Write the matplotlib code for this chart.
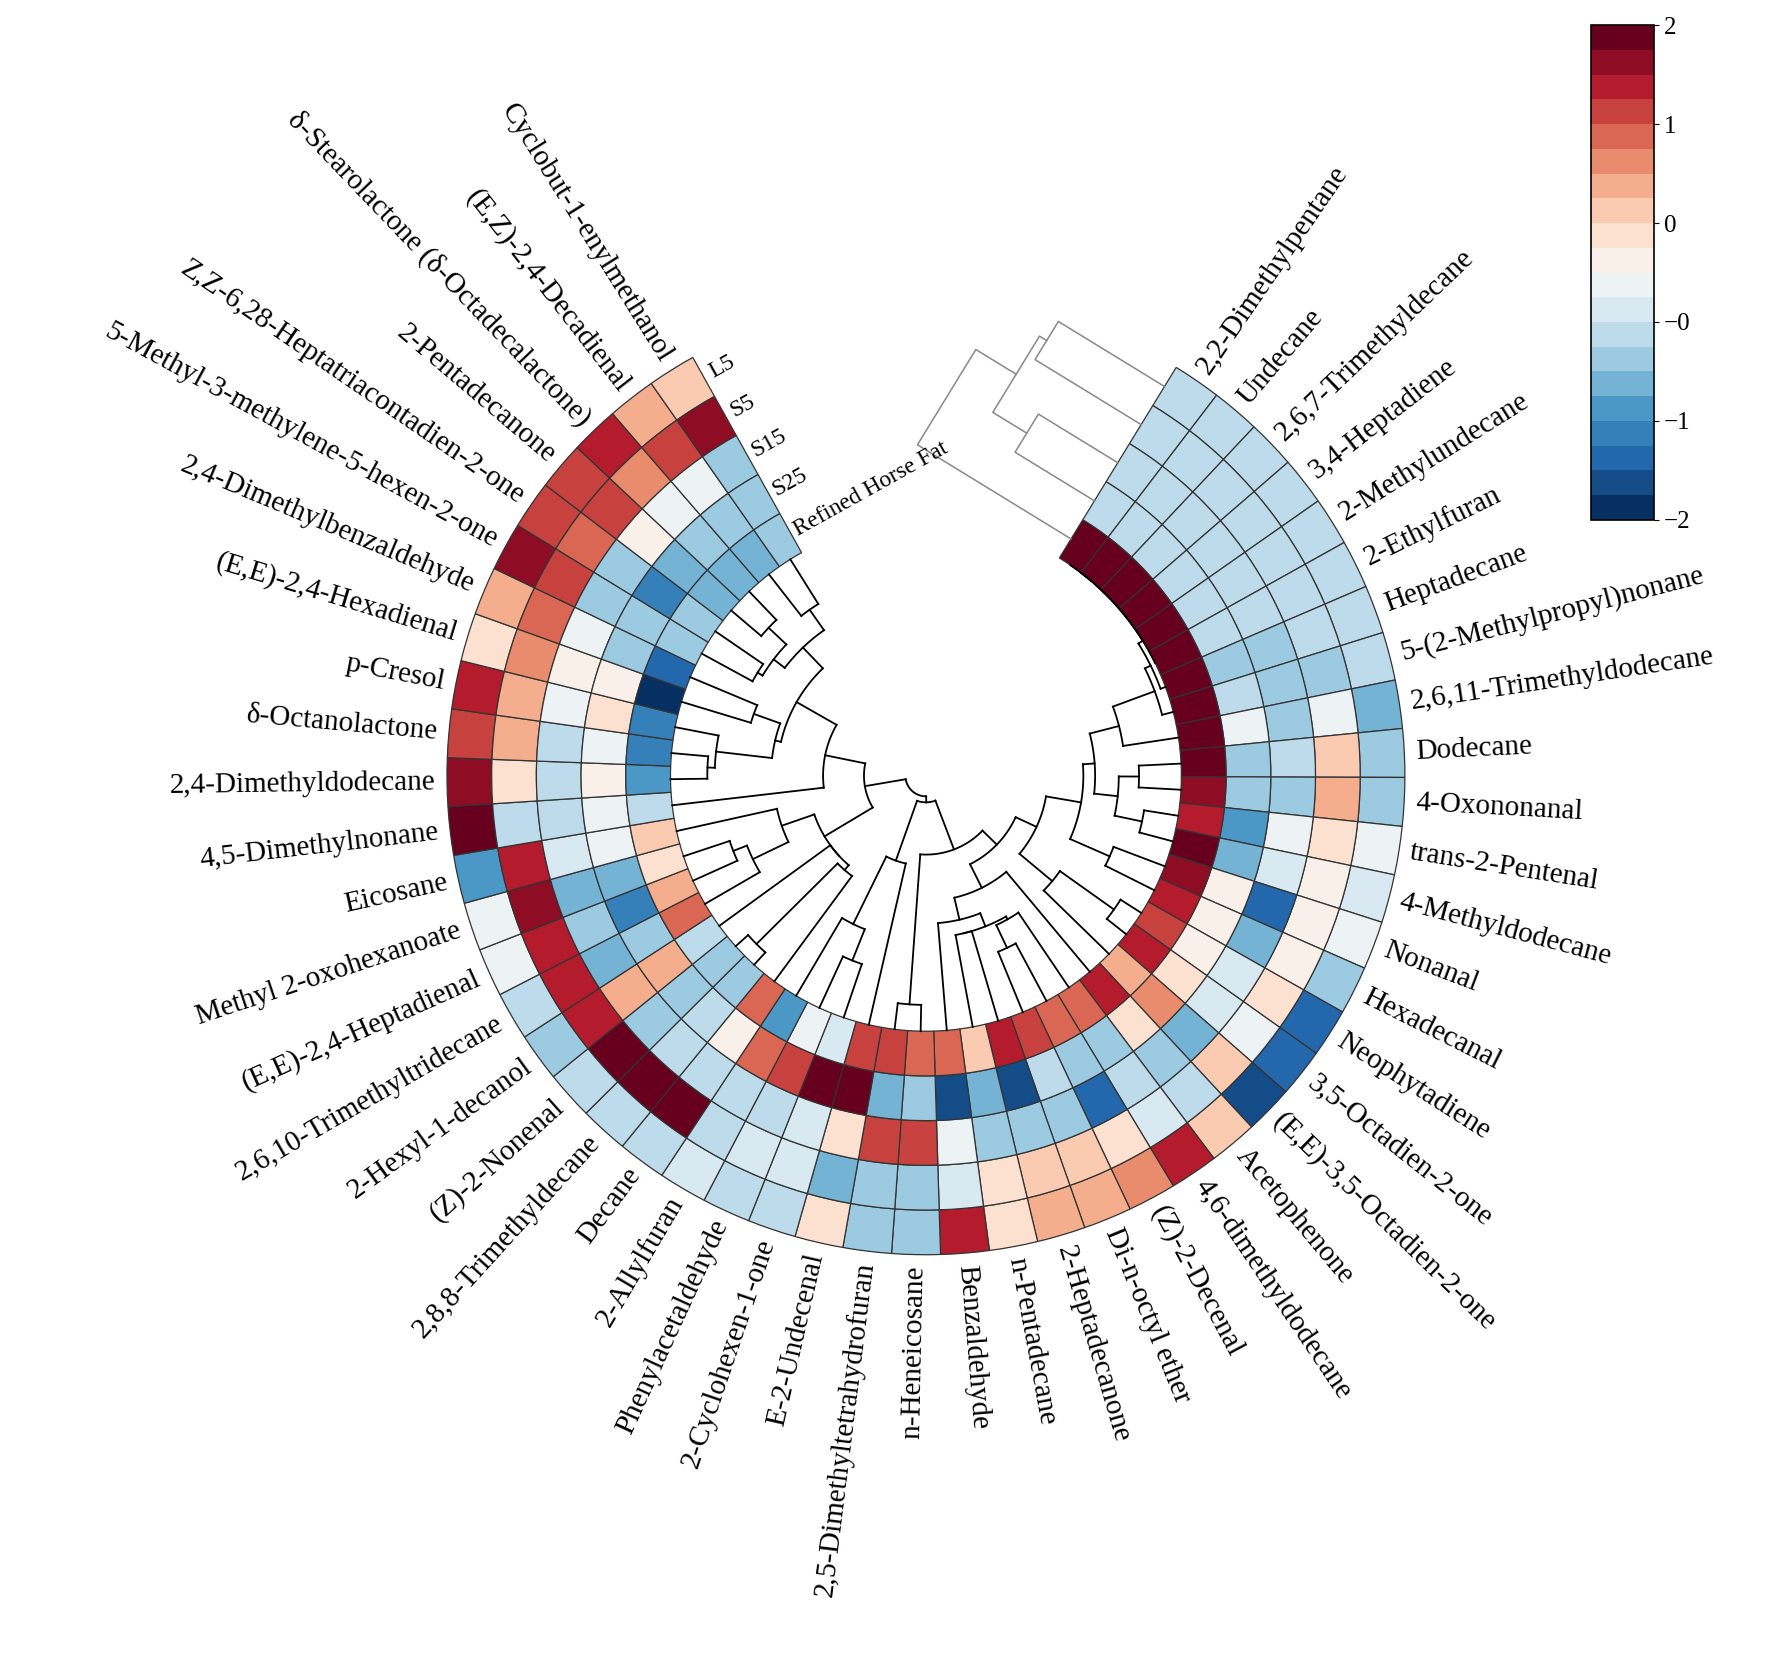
import numpy as np
import matplotlib
matplotlib.use('Agg')
import matplotlib.pyplot as plt
from matplotlib.patches import Wedge
from matplotlib import colors, cm

plt.rcParams['font.family'] = ['Liberation Serif', 'DejaVu Serif']

compounds = [
    "2,2-Dimethylpentane", "Undecane", "2,6,7-Trimethyldecane", "3,4-Heptadiene",
    "2-Methylundecane", "2-Ethylfuran", "Heptadecane", "5-(2-Methylpropyl)nonane",
    "2,6,11-Trimethyldodecane", "Dodecane", "4-Oxononanal", "trans-2-Pentenal",
    "4-Methyldodecane", "Nonanal", "Hexadecanal", "Neophytadiene",
    "3,5-Octadien-2-one", "(E,E)-3,5-Octadien-2-one", "Acetophenone",
    "4,6-dimethyldodecane", "(Z)-2-Decenal", "Di-n-octyl ether", "2-Heptadecanone",
    "n-Pentadecane", "Benzaldehyde", "n-Heneicosane", "2,5-Dimethyltetrahydrofuran",
    "E-2-Undecenal", "2-Cyclohexen-1-one", "Phenylacetaldehyde", "2-Allylfuran",
    "Decane", "2,8,8-Trimethyldecane", "(Z)-2-Nonenal", "2-Hexyl-1-decanol",
    "2,6,10-Trimethyltridecane", "(E,E)-2,4-Heptadienal", "Methyl 2-oxohexanoate",
    "Eicosane", "4,5-Dimethylnonane", "2,4-Dimethyldodecane", "δ-Octanolactone",
    "p-Cresol", "(E,E)-2,4-Hexadienal", "2,4-Dimethylbenzaldehyde",
    "5-Methyl-3-methylene-5-hexen-2-one", "Z,Z-6,28-Heptatriacontadien-2-one",
    "2-Pentadecanone", "δ-Stearolactone (δ-Octadecalactone)", "(E,Z)-2,4-Decadienal",
    "Cyclobut-1-enylmethanol",
]
samples = ["L5", "S5", "S15", "S25", "Refined Horse Fat"]

L5 = [-0.6, -0.6, -0.6, -0.6, -0.6, -0.6, -0.6, -0.55, -1.0, -0.65,
      -0.7, -0.15, -0.3, -0.2, -0.75, -1.5, -1.5, -1.7, 0.5, 1.4,
      0.9, 0.6, 0.7, 0.35, 1.4, -0.65, -0.65, 0.2, -0.5, -0.6,
      -0.35, -0.6, -0.55, -0.6, -0.65, -0.5, -0.2, -0.05, -1.2, 2.0,
      1.6, 1.3, 1.5, 0.3, 0.6, 1.6, 1.2, 1.2, 1.5, 0.7, 0.5]
S5 = [-0.6, -0.6, -0.6, -0.6, -0.6, -0.6, -0.6, -0.7, -0.1, 0.4,
      0.7, 0.35, 0.1, 0.1, 0.15, 0.2, -0.05, 0.4, -0.55, -0.25,
      0.2, 0.5, 0.45, 0.35, -0.3, -0.65, -0.65, -1.0, -0.3, -0.3,
      -0.55, 2.0, 2.0, 2.0, 1.5, 1.5, 1.4, 1.6, 1.5, -0.6,
      0.3, 0.6, 0.7, 0.9, 1.0, 1.2, 1.0, 1.3, 0.9, 1.3, 1.7]
S15 = [-0.6, -0.6, -0.6, -0.6, -0.6, -0.6, -0.65, -0.7, -0.65, -0.5,
       -0.75, -0.2, -0.3, -1.5, -1.0, -0.3, -0.35, -0.9, -0.65, -0.45,
       -1.5, -0.8, -0.65, -0.8, -0.1, 1.3, 1.3, 0.3, -0.3, -0.5,
       -0.5, -0.55, -0.45, -0.65, 0.6, -1.0, -0.65, -0.9, -0.3, -0.55,
       -0.55, -0.5, -0.15, 0.1, -0.2, -0.65, -0.65, 0.1, -0.05, -0.15, -0.65]
S25 = [-0.6, -0.6, -0.6, -0.6, -0.6, -0.6, -0.65, -0.55, -0.2, -0.65,
       -0.8, -1.2, -1.0, 0.1, 0.1, 0.1, 0.3, 0.9, 0.3, -0.75,
       -0.75, -0.45, -1.7, -1.0, -1.6, -0.65, -0.85, 2.0, 2.0, 1.3,
       1.0, 0.1, -0.55, -0.65, 0.7, -0.65, -1.3, -0.9, -0.2, -0.2,
       0.1, -0.15, 0.25, 0.15, -0.65, -0.65, -1.3, -0.9, -0.8, -0.75, -0.65]
RHF = [2.0, 2.0, 2.0, 2.0, 2.0, 2.0, 2.0, 2.0, 2.0, 2.0,
       1.6, 1.5, 1.8, 1.6, 1.5, 1.3, 1.4, 0.6, 1.4, 1.0,
       1.1, 1.3, 1.5, 0.5, 1.0, 1.0, 1.3, 1.3, -0.3, -0.05,
       -1.1, 1.0, -0.65, -0.65, -0.45, 1.0, 0.7, 0.3, 0.5, -0.55,
       -1.2, -1.3, -1.4, -1.9, -1.5, -0.65, -0.75, -0.9, -1.0, -0.9, -0.65]
cbar_ticks = [2, 1.2, 0.4, -0.4, -1.2, -2]
cbar_labels = ["2", "1", "0", "\u22120", "\u22121", "\u22122"]

data = np.array([L5, S5, S15, S25, RHF]).T  # rows: compounds, cols: samples
n, m = data.shape

# geometry (in a 1568 x 1470 drawing space)
W, H = 1568, 1470
cx, cy = 812, H - 680
r_in, ring_w = 224, 39.2
start, step = 31.5, 5.87   # compass degrees, clockwise from north


def pt(r, theta):
    t = np.radians(theta)
    return cx + r * np.sin(t), cy + r * np.cos(t)


def constrained_linkage(X):
    # average linkage, merging only neighbours so the leaf order is kept
    clusters = [([i], float(i), 0.0) for i in range(len(X))]
    links = []
    while len(clusters) > 1:
        best, bd = 0, None
        for k in range(len(clusters) - 1):
            a, b = clusters[k][0], clusters[k + 1][0]
            d = np.mean([np.linalg.norm(X[i] - X[j]) for i in a for j in b])
            if bd is None or d < bd:
                best, bd = k, d
        a, b = clusters[best], clusters[best + 1]
        h = max(bd, a[2], b[2])
        links.append((a[1], a[2], b[1], b[2], h))
        clusters[best:best + 2] = [(a[0] + b[0], (a[1] + b[1]) / 2, h)]
    return links


cmap = plt.get_cmap('RdBu_r').resampled(20)
norm = colors.Normalize(-2, 2)

fig = plt.figure(figsize=(17.88, 16.77), dpi=100)
ax = fig.add_axes([0, 0, 1, 1])
ax.set_xlim(0, W)
ax.set_ylim(0, H)
ax.set_aspect('equal')
ax.axis('off')

# heatmap rings
for i in range(n):
    t1 = start + i * step
    t2 = t1 + step
    for j in range(m):
        r_out = r_in + (m - j) * ring_w
        ax.add_patch(Wedge((cx, cy), r_out, 90 - t2, 90 - t1, width=ring_w,
                           facecolor=cmap(norm(data[i, j])), edgecolor='#333333', lw=0.9))
    tc = t1 + step / 2
    x, y = pt(r_in + m * ring_w + 10, tc)
    if tc < 180:
        ax.text(x, y, compounds[i], rotation=90 - tc, rotation_mode='anchor',
                ha='left', va='center', fontsize=21)
    else:
        ax.text(x, y, compounds[i], rotation=270 - tc, rotation_mode='anchor',
                ha='right', va='center', fontsize=21)

# sample labels at the end edge
end = start + n * step
for j in range(m):
    rc = r_in + (m - j - 0.5) * ring_w
    x, y = pt(rc, end + 1.0)
    ax.text(x, y, samples[j], rotation=360 - end, rotation_mode='anchor',
            ha='left', va='center', fontsize=17)

# row dendrogram (inside)
links = constrained_linkage(data)
hmax = max(l[4] for l in links)


def rad(h):
    return r_in - (r_in - 18) * h / hmax


def ang(p):
    return start + (p + 0.5) * step


for pa, ha, pb, hb, h in links:
    for p, hc in ((pa, ha), (pb, hb)):
        x0, y0 = pt(rad(hc), ang(p))
        x1, y1 = pt(rad(h), ang(p))
        ax.plot([x0, x1], [y0, y1], color='black', lw=1.3)
    ts = np.linspace(ang(pa), ang(pb), 40)
    xs, ys = pt(rad(h), ts)
    ax.plot(xs, ys, color='black', lw=1.3)

# column dendrogram in the gap
clinks = constrained_linkage(data.T)
chmax = max(l[4] for l in clinks)
phi = np.radians(90 - start)
v = np.array([-np.sin(phi), np.cos(phi)])


def cpt(p, h):
    base = np.array(pt(r_in + (m - p - 0.5) * ring_w, start))
    if h == 0:
        return base
    return base + v * (8 + 150 * h / chmax)


for pa, ha, pb, hb, h in clinks:
    a0, a1 = cpt(pa, ha), cpt(pa, h)
    b0, b1 = cpt(pb, hb), cpt(pb, h)
    ax.plot([a0[0], a1[0], b1[0], b0[0]], [a0[1], a1[1], b1[1], b0[1]],
            color='#888888', lw=1.1)

# colorbar
cax = fig.add_axes([0.89, 0.69, 0.035, 0.295])
cb = fig.colorbar(cm.ScalarMappable(norm=norm, cmap=cmap), cax=cax)
cb.set_ticks(cbar_ticks)
cb.set_ticklabels(cbar_labels)
cb.ax.tick_params(labelsize=18)
cb.outline.set_linewidth(1.2)

fig.savefig('out.png', dpi=100)
